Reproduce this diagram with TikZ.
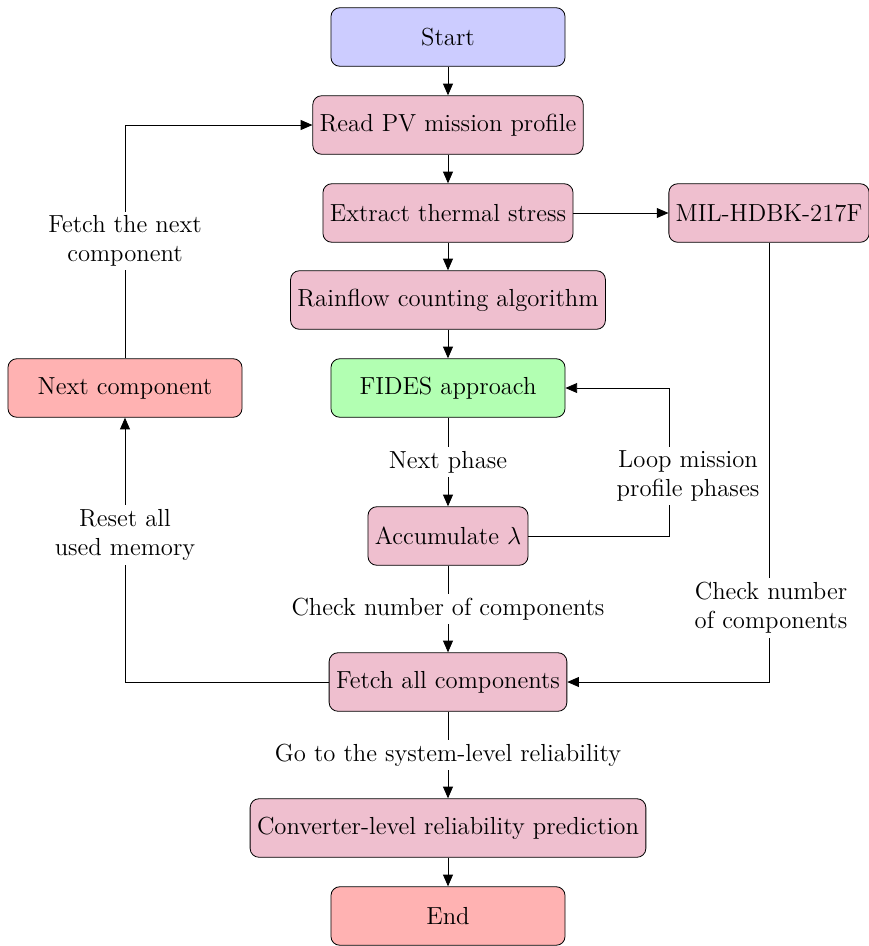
\documentclass[tikz,border=0pt]{standalone}
\usetikzlibrary{arrows.meta}
\begin{document}
\begin{tikzpicture}[x=0.01709cm,y=-0.01709cm,
  font=\large,
  box/.style={draw, rounded corners=1.5mm, minimum height=1cm, align=center, text=black},
  startbox/.style={box, fill=blue!20, minimum width=4cm},
  procbox/.style={box, fill=purple!25},
  fidesbox/.style={box, fill=green!30, minimum width=4cm},
  redbox/.style={box, fill=red!30, minimum width=4cm},
  lab/.style={fill=white, align=center, inner sep=2pt},
  arr/.style={-{Triangle[length=2mm,width=1.7mm]}}
]
\useasboundingbox (0,0) rectangle (869,946);

% main column
\node[startbox] (start) at (448,37) {Start};
\node[procbox] (read) at (448,125) {Read PV mission profile};
\node[procbox] (extract) at (448,213) {Extract thermal stress};
\node[procbox] (mil) at (769,213) {MIL-HDBK-217F};
\node[procbox] (rain) at (448,300) {Rainflow counting algorithm};
\node[fidesbox] (fides) at (448,388) {FIDES approach};
\node[redbox] (next) at (125,388) {Next component};
\node[procbox] (acc) at (448,536) {Accumulate $\lambda$};
\node[procbox] (fetch) at (448,682) {Fetch all components};
\node[procbox] (conv) at (448,828) {Converter-level reliability prediction};
\node[redbox] (end) at (448,916) {End};

% bend points of the side loops
\coordinate (loopc) at (669,388);

% straight flow
\draw[arr] (start) -- (read);
\draw[arr] (read) -- (extract);
\draw[arr] (extract) -- (rain);
\draw[arr] (rain) -- (fides);
\draw[arr] (extract) -- (mil);
\draw[arr] (fides) -- node[lab] {Next phase} (acc);
\draw[arr] (acc) -- node[lab] {Check number of components} (fetch);
\draw[arr] (fetch) -- node[lab] {Go to the system-level reliability} (conv);
\draw[arr] (conv) -- (end);

% loop over mission profile phases
\draw[arr] (acc.east) -| (loopc) -- (fides.east);
\node[lab] (looplab) at (688,476) {Loop mission\\profile phases};

% MIL-HDBK branch
\draw[arr] (mil.south) |- (fetch.east);
\node[lab] (millab) at (771,608) {Check number\\of components};

% component loop on the left
\draw[arr] (fetch.west) -| (next.south);
\node[lab] (resetlab) at (125,535) {Reset all\\used memory};
\draw[arr] (next.north) |- (read.west);
\node[lab] (fetchlab) at (125,241) {Fetch the next\\component};
\end{tikzpicture}
\end{document}
